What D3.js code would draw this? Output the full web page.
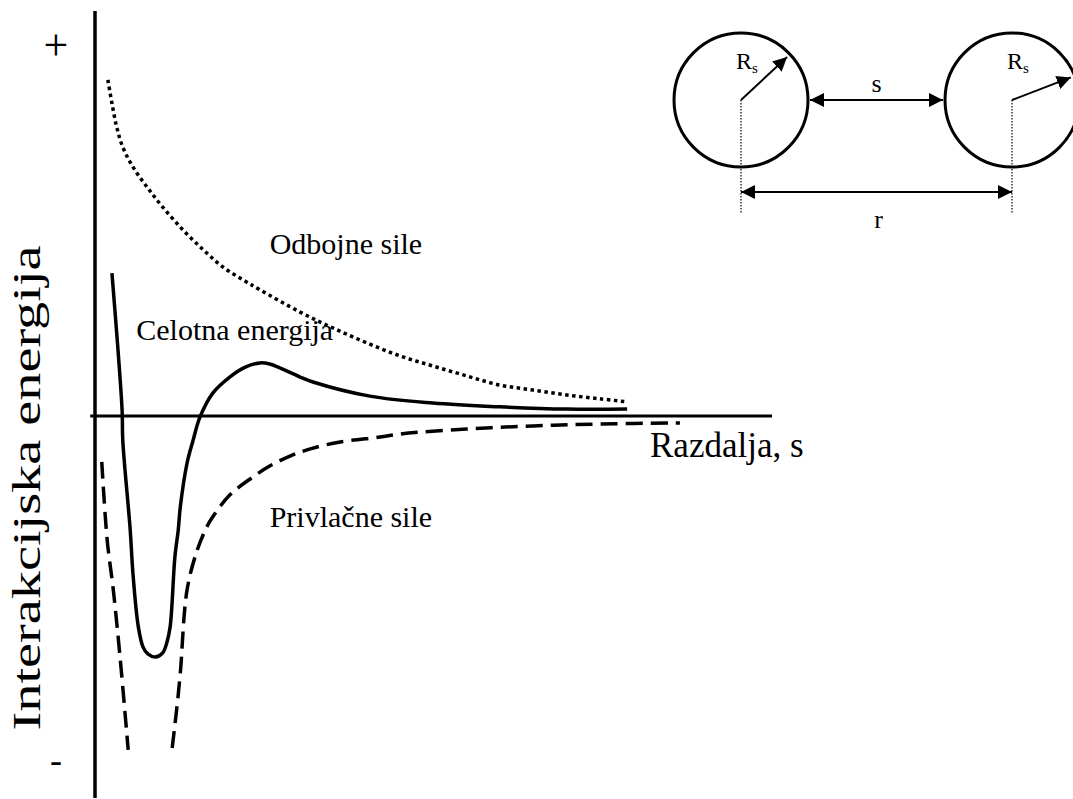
<!DOCTYPE html>
<html>
<head>
<meta charset="utf-8">
<script src="https://cdn.jsdelivr.net/npm/d3@7"></script>
<style>
  html, body { margin: 0; padding: 0; background: #fff; }
  svg { display: block; }
  text { font-family: "Liberation Serif", "Times New Roman", serif; fill: #000; }
</style>
</head>
<body>
<svg id="chart" width="1073" height="799"></svg>
<script>
// ---- data (distance units 0..100, energy units -100..100) ----
const repulsive = [
  [1.9, 88.0], [2.5, 81.9], [3.2, 75.7], [4.1, 70.4], [5.6, 65.2], [7.7, 59.9],
  [10.0, 54.7], [13.0, 48.7], [16.0, 43.5], [18.9, 39.0], [21.9, 35.6], [24.4, 33.0],
  [30.3, 27.2], [35.2, 23.0], [40.2, 19.1], [45.1, 15.7], [49.9, 13.1], [54.9, 10.5],
  [59.8, 8.1], [64.7, 6.8], [69.7, 5.5], [74.6, 4.5], [78.6, 3.7]
];
const total = [
  [2.5, 37.4], [4.0, 1.6], [4.1, -6.3], [5.2, -29.8], [5.6, -41.1], [6.4, -55.2],
  [7.1, -60.5], [7.8, -62.3], [8.9, -63.1], [10.0, -62.0], [10.6, -59.4], [11.1, -55.2],
  [11.8, -36.9], [12.3, -29.8], [12.6, -23.8], [13.6, -12.3], [14.5, -6.3], [15.5, -0.3],
  [17.4, 6.0], [19.9, 10.2], [22.2, 12.8], [24.4, 13.9], [25.8, 13.6], [27.3, 12.6],
  [30.3, 10.2], [32.2, 8.9], [40.6, 5.2], [49.9, 3.4], [59.8, 2.4], [69.7, 1.8], [78.6, 1.8]
];
const attractiveInner = [
  [1.0, -12.0], [1.8, -32.5], [2.7, -45.5], [3.7, -63.1], [4.9, -87.4]
];
const attractiveOuter = [
  [11.4, -86.9], [12.1, -76.2], [12.6, -67.3], [13.6, -45.5], [15.1, -35.1], [16.5, -29.1],
  [17.4, -26.4], [19.9, -20.7], [23.3, -16.0], [25.8, -13.1], [28.8, -10.5], [31.8, -8.6],
  [36.2, -6.8], [42.1, -5.5], [45.1, -4.7], [54.9, -3.4], [64.7, -2.6], [74.6, -2.1], [86.4, -1.8]
];
const xAxisExtent = [-0.7, 100];
const yAxisExtent = [-100, 106];
const yTickLabels = [{ v: 97, t: "+", size: 44 }, { v: -90, t: "-", size: 36 }];
const curveLabels = [
  { x: 25.8, y: 42.5, t: "Odbojne sile" },
  { x: 6.1, y: 20.0, t: "Celotna energija" },
  { x: 25.8, y: -29.0, t: "Privlačne sile" }
];
const xTitle = "Razdalja, s";
const yTitle = "Interakcijska energija";

// ---- layout ----
const svg = d3.select("#chart");
const x = d3.scaleLinear().domain([0, 100]).range([95, 772]);
const y = d3.scaleLinear().domain([-100, 100]).range([798, 34]);

const line = d3.line().x(d => x(d[0])).y(d => y(d[1])).curve(d3.curveCatmullRom.alpha(0.5));

// axes
svg.append("line")
  .attr("x1", x(0)).attr("x2", x(0))
  .attr("y1", y(yAxisExtent[1])).attr("y2", y(yAxisExtent[0]))
  .attr("stroke", "#000").attr("stroke-width", 3.5);
svg.append("line")
  .attr("x1", x(xAxisExtent[0])).attr("x2", x(xAxisExtent[1]))
  .attr("y1", y(0)).attr("y2", y(0))
  .attr("stroke", "#000").attr("stroke-width", 3.2);

// curves
svg.append("path").attr("d", line(repulsive))
  .attr("fill", "none").attr("stroke", "#000").attr("stroke-width", 3.5)
  .attr("stroke-dasharray", "3.5,3.5");
svg.append("path").attr("d", line(total))
  .attr("fill", "none").attr("stroke", "#000").attr("stroke-width", 3.5);
[attractiveInner, attractiveOuter].forEach(s => {
  svg.append("path").attr("d", line(s))
    .attr("fill", "none").attr("stroke", "#000").attr("stroke-width", 3.5)
    .attr("stroke-dasharray", "17,8");
});

// +/- marks
svg.selectAll("text.tick").data(yTickLabels).enter().append("text")
  .attr("class", "tick")
  .attr("x", 56).attr("y", d => y(d.v))
  .attr("text-anchor", "middle").attr("dominant-baseline", "central")
  .attr("font-size", d => d.size).text(d => d.t);

// curve labels
svg.selectAll("text.cl").data(curveLabels).enter().append("text")
  .attr("class", "cl")
  .attr("x", d => x(d.x)).attr("y", d => y(d.y))
  .attr("font-size", 30).text(d => d.t);

// axis titles
svg.append("text").attr("x", 650).attr("y", 457)
  .attr("font-size", 35).text(xTitle);
svg.append("text")
  .attr("transform", "translate(40,488) rotate(-90)")
  .attr("text-anchor", "middle")
  .attr("font-size", 40)
  .attr("textLength", 485).attr("lengthAdjust", "spacingAndGlyphs")
  .text(yTitle);

// ---- inset schematic ----
const defs = svg.append("defs");
defs.append("marker").attr("id", "ah")
  .attr("markerUnits", "userSpaceOnUse")
  .attr("markerWidth", 14).attr("markerHeight", 14)
  .attr("refX", 14).attr("refY", 7)
  .attr("orient", "auto-start-reverse")
  .append("path").attr("d", "M0,0 L14,7 L0,14 Z").attr("fill", "#000");

const inset = { c1: [741, 100], c2: [1012, 100], r: 67, dimY: 192, dropY: 213 };
const g = svg.append("g");
[inset.c1, inset.c2].forEach(c => {
  g.append("circle").attr("cx", c[0]).attr("cy", c[1]).attr("r", inset.r)
    .attr("fill", "none").attr("stroke", "#000").attr("stroke-width", 3);
  g.append("line").attr("x1", c[0]).attr("x2", c[0])
    .attr("y1", c[1]).attr("y2", inset.dropY)
    .attr("stroke", "#000").attr("stroke-width", 1.2).attr("stroke-dasharray", "1.5,1.5");
});
// radius arrows
const rad = [[inset.c1, -43], [inset.c2, -21]];
rad.forEach(([c, ang]) => {
  const a = ang * Math.PI / 180;
  g.append("line").attr("x1", c[0]).attr("y1", c[1])
    .attr("x2", c[0] + (inset.r - 4) * Math.cos(a)).attr("y2", c[1] + (inset.r - 4) * Math.sin(a))
    .attr("stroke", "#000").attr("stroke-width", 2).attr("marker-end", "url(#ah)");
});
// s arrow
g.append("line").attr("x1", inset.c1[0] + inset.r + 2).attr("x2", inset.c2[0] - inset.r - 2)
  .attr("y1", inset.c1[1]).attr("y2", inset.c1[1])
  .attr("stroke", "#000").attr("stroke-width", 2)
  .attr("marker-start", "url(#ah)").attr("marker-end", "url(#ah)");
// r arrow
g.append("line").attr("x1", inset.c1[0]).attr("x2", inset.c2[0])
  .attr("y1", inset.dimY).attr("y2", inset.dimY)
  .attr("stroke", "#000").attr("stroke-width", 2)
  .attr("marker-start", "url(#ah)").attr("marker-end", "url(#ah)");
// labels
g.append("text").attr("x", (inset.c1[0] + inset.c2[0]) / 2).attr("y", 92)
  .attr("text-anchor", "middle").attr("font-size", 26).text("s");
g.append("text").attr("x", (inset.c1[0] + inset.c2[0]) / 2 + 2).attr("y", 228)
  .attr("text-anchor", "middle").attr("font-size", 26).text("r");
[[736, 69], [1007, 69]].forEach(p => {
  const t = g.append("text").attr("x", p[0]).attr("y", p[1]).attr("font-size", 24);
  t.append("tspan").text("R");
  t.append("tspan").attr("font-size", 15).attr("dy", 4).text("s");
});
</script>
</body>
</html>
